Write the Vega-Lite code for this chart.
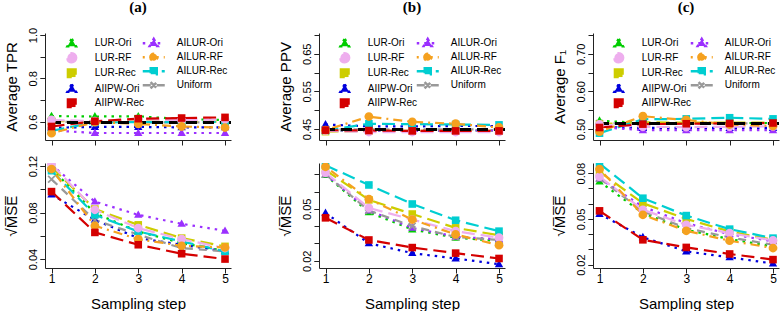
{
  "$schema": "https://vega.github.io/schema/vega-lite/v6.json",
  "padding": {"left": 4, "top": 0, "right": 2, "bottom": 0},
  "config": {
    "view": {"stroke": null},
    "font": "Liberation Sans",
    "axis": {"grid": false, "domainColor": "#222", "tickColor": "#222", "tickSize": 5, "labelFont": "Liberation Sans", "titleFont": "Liberation Sans", "labelColor": "#000", "titleColor": "#000", "titleFontWeight": "normal", "titleFontSize": 15, "labelFlush": false},
    "axisY": {"labelAngle": 270, "labelFontSize": 11, "labelPadding": 2, "titlePadding": 8},
    "axisX": {"labelFontSize": 12, "labelPadding": 0, "titlePadding": 12},
    "title": {"font": "Liberation Serif", "fontSize": 15, "fontWeight": "bold", "color": "#000", "anchor": "middle", "frame": "group", "baseline": "middle"},
    "legend": {"title": null, "orient": "none", "rowPadding": -3.5, "symbolSize": 64, "symbolStrokeWidth": 2.5, "symbolOffset": 10.25, "labelOffset": 17.5, "labelFontSize": 10, "labelFont": "Liberation Sans", "labelColor": "#000", "padding": 0}
  },
  "datasets": {
    "refs": [{"panel": "a", "value": 0.596}, {"panel": "b", "value": 0.449}, {"panel": "c", "value": 0.515}],
    "tprA": [
      {"method": "LUR-Ori", "step": 1, "value": 0.626}, {"method": "LUR-Ori", "step": 2, "value": 0.624}, {"method": "LUR-Ori", "step": 3, "value": 0.625}, {"method": "LUR-Ori", "step": 4, "value": 0.612}, {"method": "LUR-Ori", "step": 5, "value": 0.608},
      {"method": "AIIPW-Ori", "step": 1, "value": 0.572}, {"method": "AIIPW-Ori", "step": 2, "value": 0.576}, {"method": "AIIPW-Ori", "step": 3, "value": 0.576}, {"method": "AIIPW-Ori", "step": 4, "value": 0.574}, {"method": "AIIPW-Ori", "step": 5, "value": 0.574},
      {"method": "AILUR-Ori", "step": 1, "value": 0.560}, {"method": "AILUR-Ori", "step": 2, "value": 0.548}, {"method": "AILUR-Ori", "step": 3, "value": 0.548}, {"method": "AILUR-Ori", "step": 4, "value": 0.548}, {"method": "AILUR-Ori", "step": 5, "value": 0.548},
      {"method": "Uniform", "step": 1, "value": 0.600}, {"method": "Uniform", "step": 2, "value": 0.598}, {"method": "Uniform", "step": 3, "value": 0.597}, {"method": "Uniform", "step": 4, "value": 0.597}, {"method": "Uniform", "step": 5, "value": 0.597},
      {"method": "LUR-Rec", "step": 1, "value": 0.603}, {"method": "LUR-Rec", "step": 2, "value": 0.600}, {"method": "LUR-Rec", "step": 3, "value": 0.602}, {"method": "LUR-Rec", "step": 4, "value": 0.600}, {"method": "LUR-Rec", "step": 5, "value": 0.601},
      {"method": "AILUR-Rec", "step": 1, "value": 0.558}, {"method": "AILUR-Rec", "step": 2, "value": 0.597}, {"method": "AILUR-Rec", "step": 3, "value": 0.598}, {"method": "AILUR-Rec", "step": 4, "value": 0.598}, {"method": "AILUR-Rec", "step": 5, "value": 0.599},
      {"method": "LUR-RF", "step": 1, "value": 0.608}, {"method": "LUR-RF", "step": 2, "value": 0.603}, {"method": "LUR-RF", "step": 3, "value": 0.612}, {"method": "LUR-RF", "step": 4, "value": 0.607}, {"method": "LUR-RF", "step": 5, "value": 0.610},
      {"method": "AILUR-RF", "step": 1, "value": 0.547}, {"method": "AILUR-RF", "step": 2, "value": 0.598}, {"method": "AILUR-RF", "step": 3, "value": 0.590}, {"method": "AILUR-RF", "step": 4, "value": 0.578}, {"method": "AILUR-RF", "step": 5, "value": 0.573},
      {"method": "AIIPW-Rec", "step": 1, "value": 0.578}, {"method": "AIIPW-Rec", "step": 2, "value": 0.602}, {"method": "AIIPW-Rec", "step": 3, "value": 0.614}, {"method": "AIIPW-Rec", "step": 4, "value": 0.617}, {"method": "AIIPW-Rec", "step": 5, "value": 0.620}
    ],
    "ppvB": [
      {"method": "LUR-Ori", "step": 1, "value": 0.447}, {"method": "LUR-Ori", "step": 2, "value": 0.446}, {"method": "LUR-Ori", "step": 3, "value": 0.446}, {"method": "LUR-Ori", "step": 4, "value": 0.446}, {"method": "LUR-Ori", "step": 5, "value": 0.446},
      {"method": "AIIPW-Ori", "step": 1, "value": 0.462}, {"method": "AIIPW-Ori", "step": 2, "value": 0.457}, {"method": "AIIPW-Ori", "step": 3, "value": 0.457}, {"method": "AIIPW-Ori", "step": 4, "value": 0.458}, {"method": "AIIPW-Ori", "step": 5, "value": 0.458},
      {"method": "AILUR-Ori", "step": 1, "value": 0.446}, {"method": "AILUR-Ori", "step": 2, "value": 0.446}, {"method": "AILUR-Ori", "step": 3, "value": 0.445}, {"method": "AILUR-Ori", "step": 4, "value": 0.446}, {"method": "AILUR-Ori", "step": 5, "value": 0.446},
      {"method": "Uniform", "step": 1, "value": 0.449}, {"method": "Uniform", "step": 2, "value": 0.449}, {"method": "Uniform", "step": 3, "value": 0.449}, {"method": "Uniform", "step": 4, "value": 0.449}, {"method": "Uniform", "step": 5, "value": 0.449},
      {"method": "LUR-Rec", "step": 1, "value": 0.443}, {"method": "LUR-Rec", "step": 2, "value": 0.445}, {"method": "LUR-Rec", "step": 3, "value": 0.445}, {"method": "LUR-Rec", "step": 4, "value": 0.445}, {"method": "LUR-Rec", "step": 5, "value": 0.445},
      {"method": "AILUR-Rec", "step": 1, "value": 0.446}, {"method": "AILUR-Rec", "step": 2, "value": 0.464}, {"method": "AILUR-Rec", "step": 3, "value": 0.463}, {"method": "AILUR-Rec", "step": 4, "value": 0.462}, {"method": "AILUR-Rec", "step": 5, "value": 0.461},
      {"method": "LUR-RF", "step": 1, "value": 0.445}, {"method": "LUR-RF", "step": 2, "value": 0.442}, {"method": "LUR-RF", "step": 3, "value": 0.442}, {"method": "LUR-RF", "step": 4, "value": 0.442}, {"method": "LUR-RF", "step": 5, "value": 0.442},
      {"method": "AILUR-RF", "step": 1, "value": 0.447}, {"method": "AILUR-RF", "step": 2, "value": 0.483}, {"method": "AILUR-RF", "step": 3, "value": 0.469}, {"method": "AILUR-RF", "step": 4, "value": 0.464}, {"method": "AILUR-RF", "step": 5, "value": 0.454},
      {"method": "AIIPW-Rec", "step": 1, "value": 0.447}, {"method": "AIIPW-Rec", "step": 2, "value": 0.446}, {"method": "AIIPW-Rec", "step": 3, "value": 0.445}, {"method": "AIIPW-Rec", "step": 4, "value": 0.445}, {"method": "AIIPW-Rec", "step": 5, "value": 0.445}
    ],
    "f1C": [
      {"method": "LUR-Ori", "step": 1, "value": 0.522}, {"method": "LUR-Ori", "step": 2, "value": 0.516}, {"method": "LUR-Ori", "step": 3, "value": 0.516}, {"method": "LUR-Ori", "step": 4, "value": 0.516}, {"method": "LUR-Ori", "step": 5, "value": 0.516},
      {"method": "AIIPW-Ori", "step": 1, "value": 0.505}, {"method": "AIIPW-Ori", "step": 2, "value": 0.503}, {"method": "AIIPW-Ori", "step": 3, "value": 0.503}, {"method": "AIIPW-Ori", "step": 4, "value": 0.503}, {"method": "AIIPW-Ori", "step": 5, "value": 0.503},
      {"method": "AILUR-Ori", "step": 1, "value": 0.505}, {"method": "AILUR-Ori", "step": 2, "value": 0.497}, {"method": "AILUR-Ori", "step": 3, "value": 0.497}, {"method": "AILUR-Ori", "step": 4, "value": 0.497}, {"method": "AILUR-Ori", "step": 5, "value": 0.497},
      {"method": "Uniform", "step": 1, "value": 0.515}, {"method": "Uniform", "step": 2, "value": 0.515}, {"method": "Uniform", "step": 3, "value": 0.515}, {"method": "Uniform", "step": 4, "value": 0.515}, {"method": "Uniform", "step": 5, "value": 0.515},
      {"method": "LUR-Rec", "step": 1, "value": 0.513}, {"method": "LUR-Rec", "step": 2, "value": 0.518}, {"method": "LUR-Rec", "step": 3, "value": 0.517}, {"method": "LUR-Rec", "step": 4, "value": 0.517}, {"method": "LUR-Rec", "step": 5, "value": 0.517},
      {"method": "AILUR-Rec", "step": 1, "value": 0.489}, {"method": "AILUR-Rec", "step": 2, "value": 0.526}, {"method": "AILUR-Rec", "step": 3, "value": 0.527}, {"method": "AILUR-Rec", "step": 4, "value": 0.530}, {"method": "AILUR-Rec", "step": 5, "value": 0.527},
      {"method": "LUR-RF", "step": 1, "value": 0.512}, {"method": "LUR-RF", "step": 2, "value": 0.506}, {"method": "LUR-RF", "step": 3, "value": 0.505}, {"method": "LUR-RF", "step": 4, "value": 0.506}, {"method": "LUR-RF", "step": 5, "value": 0.507},
      {"method": "AILUR-RF", "step": 1, "value": 0.493}, {"method": "AILUR-RF", "step": 2, "value": 0.534}, {"method": "AILUR-RF", "step": 3, "value": 0.524}, {"method": "AILUR-RF", "step": 4, "value": 0.512}, {"method": "AILUR-RF", "step": 5, "value": 0.508},
      {"method": "AIIPW-Rec", "step": 1, "value": 0.504}, {"method": "AIIPW-Rec", "step": 2, "value": 0.513}, {"method": "AIIPW-Rec", "step": 3, "value": 0.514}, {"method": "AIIPW-Rec", "step": 4, "value": 0.515}, {"method": "AIIPW-Rec", "step": 5, "value": 0.516}
    ],
    "mseA": [
      {"method": "LUR-Ori", "step": 1, "value": 0.118}, {"method": "LUR-Ori", "step": 2, "value": 0.0794}, {"method": "LUR-Ori", "step": 3, "value": 0.0637}, {"method": "LUR-Ori", "step": 4, "value": 0.0537}, {"method": "LUR-Ori", "step": 5, "value": 0.047},
      {"method": "AIIPW-Ori", "step": 1, "value": 0.0955}, {"method": "AIIPW-Ori", "step": 2, "value": 0.0737}, {"method": "AIIPW-Ori", "step": 3, "value": 0.058}, {"method": "AIIPW-Ori", "step": 4, "value": 0.0523}, {"method": "AIIPW-Ori", "step": 5, "value": 0.0466},
      {"method": "AILUR-Ori", "step": 1, "value": 0.121}, {"method": "AILUR-Ori", "step": 2, "value": 0.0894}, {"method": "AILUR-Ori", "step": 3, "value": 0.078}, {"method": "AILUR-Ori", "step": 4, "value": 0.0703}, {"method": "AILUR-Ori", "step": 5, "value": 0.0643},
      {"method": "Uniform", "step": 1, "value": 0.1086}, {"method": "Uniform", "step": 2, "value": 0.0735}, {"method": "Uniform", "step": 3, "value": 0.061}, {"method": "Uniform", "step": 4, "value": 0.0494}, {"method": "Uniform", "step": 5, "value": 0.0466},
      {"method": "LUR-Rec", "step": 1, "value": 0.119}, {"method": "LUR-Rec", "step": 2, "value": 0.083}, {"method": "LUR-Rec", "step": 3, "value": 0.0694}, {"method": "LUR-Rec", "step": 4, "value": 0.058}, {"method": "LUR-Rec", "step": 5, "value": 0.0509},
      {"method": "AILUR-Rec", "step": 1, "value": 0.116}, {"method": "AILUR-Rec", "step": 2, "value": 0.078}, {"method": "AILUR-Rec", "step": 3, "value": 0.0637}, {"method": "AILUR-Rec", "step": 4, "value": 0.0551}, {"method": "AILUR-Rec", "step": 5, "value": 0.0466},
      {"method": "LUR-RF", "step": 1, "value": 0.1215}, {"method": "LUR-RF", "step": 2, "value": 0.0823}, {"method": "LUR-RF", "step": 3, "value": 0.0666}, {"method": "LUR-RF", "step": 4, "value": 0.0571}, {"method": "LUR-RF", "step": 5, "value": 0.0494},
      {"method": "AILUR-RF", "step": 1, "value": 0.1174}, {"method": "AILUR-RF", "step": 2, "value": 0.0686}, {"method": "AILUR-RF", "step": 3, "value": 0.0571}, {"method": "AILUR-RF", "step": 4, "value": 0.0514}, {"method": "AILUR-RF", "step": 5, "value": 0.050},
      {"method": "AIIPW-Rec", "step": 1, "value": 0.098}, {"method": "AIIPW-Rec", "step": 2, "value": 0.0629}, {"method": "AIIPW-Rec", "step": 3, "value": 0.0523}, {"method": "AIIPW-Rec", "step": 4, "value": 0.0446}, {"method": "AIIPW-Rec", "step": 5, "value": 0.040}
    ],
    "mseB": [
      {"method": "LUR-Ori", "step": 1, "value": 0.0695}, {"method": "LUR-Ori", "step": 2, "value": 0.048}, {"method": "LUR-Ori", "step": 3, "value": 0.0381}, {"method": "LUR-Ori", "step": 4, "value": 0.0333}, {"method": "LUR-Ori", "step": 5, "value": 0.0314},
      {"method": "AIIPW-Ori", "step": 1, "value": 0.0476}, {"method": "AIIPW-Ori", "step": 2, "value": 0.0301}, {"method": "AIIPW-Ori", "step": 3, "value": 0.0244}, {"method": "AIIPW-Ori", "step": 4, "value": 0.0213}, {"method": "AIIPW-Ori", "step": 5, "value": 0.018},
      {"method": "AILUR-Ori", "step": 1, "value": 0.070}, {"method": "AILUR-Ori", "step": 2, "value": 0.0491}, {"method": "AILUR-Ori", "step": 3, "value": 0.039}, {"method": "AILUR-Ori", "step": 4, "value": 0.0339}, {"method": "AILUR-Ori", "step": 5, "value": 0.0324},
      {"method": "Uniform", "step": 1, "value": 0.070}, {"method": "Uniform", "step": 2, "value": 0.049}, {"method": "Uniform", "step": 3, "value": 0.040}, {"method": "Uniform", "step": 4, "value": 0.0337}, {"method": "Uniform", "step": 5, "value": 0.032},
      {"method": "LUR-Rec", "step": 1, "value": 0.0724}, {"method": "LUR-Rec", "step": 2, "value": 0.0552}, {"method": "LUR-Rec", "step": 3, "value": 0.047}, {"method": "LUR-Rec", "step": 4, "value": 0.039}, {"method": "LUR-Rec", "step": 5, "value": 0.0347},
      {"method": "AILUR-Rec", "step": 1, "value": 0.0752}, {"method": "AILUR-Rec", "step": 2, "value": 0.0638}, {"method": "AILUR-Rec", "step": 3, "value": 0.0528}, {"method": "AILUR-Rec", "step": 4, "value": 0.0434}, {"method": "AILUR-Rec", "step": 5, "value": 0.0371},
      {"method": "LUR-RF", "step": 1, "value": 0.0709}, {"method": "LUR-RF", "step": 2, "value": 0.0505}, {"method": "LUR-RF", "step": 3, "value": 0.0438}, {"method": "LUR-RF", "step": 4, "value": 0.0371}, {"method": "LUR-RF", "step": 5, "value": 0.0333},
      {"method": "AILUR-RF", "step": 1, "value": 0.0743}, {"method": "AILUR-RF", "step": 2, "value": 0.0556}, {"method": "AILUR-RF", "step": 3, "value": 0.0438}, {"method": "AILUR-RF", "step": 4, "value": 0.0352}, {"method": "AILUR-RF", "step": 5, "value": 0.029},
      {"method": "AIIPW-Rec", "step": 1, "value": 0.0448}, {"method": "AIIPW-Rec", "step": 2, "value": 0.032}, {"method": "AIIPW-Rec", "step": 3, "value": 0.0276}, {"method": "AIIPW-Rec", "step": 4, "value": 0.0244}, {"method": "AIIPW-Rec", "step": 5, "value": 0.0213}
    ],
    "mseC": [
      {"method": "LUR-Ori", "step": 1, "value": 0.0745}, {"method": "LUR-Ori", "step": 2, "value": 0.0538}, {"method": "LUR-Ori", "step": 3, "value": 0.0429}, {"method": "LUR-Ori", "step": 4, "value": 0.0368}, {"method": "LUR-Ori", "step": 5, "value": 0.032},
      {"method": "AIIPW-Ori", "step": 1, "value": 0.0533}, {"method": "AIIPW-Ori", "step": 2, "value": 0.038}, {"method": "AIIPW-Ori", "step": 3, "value": 0.0287}, {"method": "AIIPW-Ori", "step": 4, "value": 0.0248}, {"method": "AIIPW-Ori", "step": 5, "value": 0.0207},
      {"method": "AILUR-Ori", "step": 1, "value": 0.0766}, {"method": "AILUR-Ori", "step": 2, "value": 0.058}, {"method": "AILUR-Ori", "step": 3, "value": 0.0472}, {"method": "AILUR-Ori", "step": 4, "value": 0.040}, {"method": "AILUR-Ori", "step": 5, "value": 0.0353},
      {"method": "Uniform", "step": 1, "value": 0.0766}, {"method": "Uniform", "step": 2, "value": 0.0549}, {"method": "Uniform", "step": 3, "value": 0.044}, {"method": "Uniform", "step": 4, "value": 0.0379}, {"method": "Uniform", "step": 5, "value": 0.0331},
      {"method": "LUR-Rec", "step": 1, "value": 0.081}, {"method": "LUR-Rec", "step": 2, "value": 0.0603}, {"method": "LUR-Rec", "step": 3, "value": 0.050}, {"method": "LUR-Rec", "step": 4, "value": 0.0418}, {"method": "LUR-Rec", "step": 5, "value": 0.0363},
      {"method": "AILUR-Rec", "step": 1, "value": 0.0864}, {"method": "AILUR-Rec", "step": 2, "value": 0.0636}, {"method": "AILUR-Rec", "step": 3, "value": 0.0522}, {"method": "AILUR-Rec", "step": 4, "value": 0.0433}, {"method": "AILUR-Rec", "step": 5, "value": 0.0374},
      {"method": "LUR-RF", "step": 1, "value": 0.0777}, {"method": "LUR-RF", "step": 2, "value": 0.056}, {"method": "LUR-RF", "step": 3, "value": 0.0461}, {"method": "LUR-RF", "step": 4, "value": 0.0407}, {"method": "LUR-RF", "step": 5, "value": 0.0359},
      {"method": "AILUR-RF", "step": 1, "value": 0.0827}, {"method": "AILUR-RF", "step": 2, "value": 0.0527}, {"method": "AILUR-RF", "step": 3, "value": 0.0422}, {"method": "AILUR-RF", "step": 4, "value": 0.0357}, {"method": "AILUR-RF", "step": 5, "value": 0.0309},
      {"method": "AIIPW-Rec", "step": 1, "value": 0.0553}, {"method": "AIIPW-Rec", "step": 2, "value": 0.0363}, {"method": "AIIPW-Rec", "step": 3, "value": 0.0313}, {"method": "AIIPW-Rec", "step": 4, "value": 0.027}, {"method": "AIIPW-Rec", "step": 5, "value": 0.0233}
    ]
  },
  "columns": 3,
  "bounds": "flush",
  "spacing": {"row": 23, "column": 88},
  "resolve": {"legend": {"color": "independent", "strokeDash": "independent", "shape": "independent", "fill": "independent"}},
  "concat": [
    {
      "title": {"text": "(a)", "offset": 12},
      "width": 186, "height": 107,
      "resolve": {"axis": {"y": "independent"}},
      "layer": [
        {
          "data": {"name": "tprA"},
          "mark": {"type": "line", "strokeWidth": 2.2, "clip": true},
          "encoding": {
            "x": {"field": "step", "type": "quantitative", "scale": {"domain": [0.85, 5.138], "nice": false, "zero": false}, "axis": {"values": [1, 2, 3, 4, 5], "labels": false, "title": null}},
            "y": {"field": "value", "type": "quantitative", "scale": {"domain": [0.5157, 1.0092], "nice": false, "zero": false}, "axis": {"orient": "left", "values": [0.6, 0.8, 1.0], "format": ".1f", "title": "Average TPR"}},
            "color": {"field": "method", "type": "nominal", "scale": {"domain": ["LUR-Ori", "LUR-RF", "LUR-Rec", "AIIPW-Ori", "AIIPW-Rec", "AILUR-Ori", "AILUR-RF", "AILUR-Rec", "Uniform"], "range": ["#00CD00", "#EEAEEE", "#CDCD00", "#0000DD", "#D40000", "#9B30FF", "#F5A11F", "#00CED1", "#999999"]},
              "legend": {"values": ["LUR-Ori", "LUR-RF", "LUR-Rec", "AIIPW-Ori", "AIIPW-Rec"], "legendX": 11, "legendY": 4.75, "encoding": {"symbols": {"shape": {"value": {"expr": "indexof(['LUR-Ori','AILUR-Ori','AIIPW-Ori'], datum.value) >= 0 ? 'M-2.75,0H2.75M0,-1.05L1,0.7L-1,0.7Z' : indexof(['LUR-RF','AILUR-RF'], datum.value) >= 0 ? 'M-2.75,0H2.75M0.85,0A0.85,0.85,0,1,1,-0.85,0A0.85,0.85,0,1,1,0.85,0Z' : datum.value == 'Uniform' ? 'M-2.75,0H2.75M-0.8,-0.8L0.8,0.8M-0.8,0.8L0.8,-0.8' : 'M-2.75,0H2.75M-0.75,-0.75H0.75V0.75H-0.75Z'"}}, "fill": {"value": {"expr": "scale('color', datum.value)"}}, "stroke": {"value": {"expr": "scale('color', datum.value)"}}, "strokeDash": {"value": {"expr": "scale('strokeDash', datum.value)"}}, "size": {"value": 64}, "strokeWidth": {"value": 2.5}}}}},
            "strokeDash": {"field": "method", "type": "nominal", "scale": {"domain": ["LUR-Ori", "LUR-RF", "LUR-Rec", "AIIPW-Ori", "AIIPW-Rec", "AILUR-Ori", "AILUR-RF", "AILUR-Rec", "Uniform"], "range": [[2.5, 5], [13, 6], [13, 6], [2.5, 5], [13, 6], [2.5, 5], [2, 5, 9, 5], [13, 6], [8, 6]]},
              "legend": {"values": ["LUR-Ori", "LUR-RF", "LUR-Rec", "AIIPW-Ori", "AIIPW-Rec"], "legendX": 11, "legendY": 4.75, "encoding": {"symbols": {"shape": {"value": {"expr": "indexof(['LUR-Ori','AILUR-Ori','AIIPW-Ori'], datum.value) >= 0 ? 'M-2.75,0H2.75M0,-1.05L1,0.7L-1,0.7Z' : indexof(['LUR-RF','AILUR-RF'], datum.value) >= 0 ? 'M-2.75,0H2.75M0.85,0A0.85,0.85,0,1,1,-0.85,0A0.85,0.85,0,1,1,0.85,0Z' : datum.value == 'Uniform' ? 'M-2.75,0H2.75M-0.8,-0.8L0.8,0.8M-0.8,0.8L0.8,-0.8' : 'M-2.75,0H2.75M-0.75,-0.75H0.75V0.75H-0.75Z'"}}, "fill": {"value": {"expr": "scale('color', datum.value)"}}, "stroke": {"value": {"expr": "scale('color', datum.value)"}}, "strokeDash": {"value": {"expr": "scale('strokeDash', datum.value)"}}, "size": {"value": 64}, "strokeWidth": {"value": 2.5}}}}}
          }
        },
        {
          "data": {"name": "refs"},
          "transform": [{"filter": "datum.panel == 'a'"}],
          "mark": {"type": "rule", "color": "#000", "strokeWidth": 3, "strokeDash": [11, 6]},
          "encoding": {"y": {"field": "value", "type": "quantitative", "axis": null}}
        },
        {
          "data": {"name": "tprA"},
          "mark": {"type": "point", "filled": true, "opacity": 1, "size": 64, "strokeWidth": 0, "clip": true},
          "encoding": {
            "x": {"field": "step", "type": "quantitative"},
            "y": {"field": "value", "type": "quantitative", "axis": {"orient": "left", "values": [0.6, 0.7, 0.8, 0.9, 1.0], "labels": false, "domain": false, "title": null}},
            "fill": {"field": "method", "type": "nominal", "scale": {"domain": ["Uniform", "AILUR-Rec", "AILUR-RF", "AILUR-Ori", "AIIPW-Rec", "AIIPW-Ori", "LUR-Rec", "LUR-RF", "LUR-Ori"], "range": ["#999999", "#00CED1", "#F5A11F", "#9B30FF", "#D40000", "#0000DD", "#CDCD00", "#EEAEEE", "#00CD00"]},
              "legend": {"values": ["AILUR-Ori", "AILUR-RF", "AILUR-Rec", "Uniform"], "legendX": 93, "legendY": 4.75, "encoding": {"symbols": {"shape": {"value": {"expr": "indexof(['LUR-Ori','AILUR-Ori','AIIPW-Ori'], datum.value) >= 0 ? 'M-2.75,0H2.75M0,-1.05L1,0.7L-1,0.7Z' : indexof(['LUR-RF','AILUR-RF'], datum.value) >= 0 ? 'M-2.75,0H2.75M0.85,0A0.85,0.85,0,1,1,-0.85,0A0.85,0.85,0,1,1,0.85,0Z' : datum.value == 'Uniform' ? 'M-2.75,0H2.75M-0.8,-0.8L0.8,0.8M-0.8,0.8L0.8,-0.8' : 'M-2.75,0H2.75M-0.75,-0.75H0.75V0.75H-0.75Z'"}}, "fill": {"value": {"expr": "scale('fill', datum.value)"}}, "stroke": {"value": {"expr": "scale('fill', datum.value)"}}, "strokeDash": {"value": {"expr": "scale('strokeDash', datum.value)"}}, "size": {"value": 64}, "strokeWidth": {"value": 2.5}}}}},
            "shape": {"field": "method", "type": "nominal", "scale": {"domain": ["LUR-Ori", "LUR-RF", "LUR-Rec", "AIIPW-Ori", "AIIPW-Rec", "AILUR-Ori", "AILUR-RF", "AILUR-Rec", "Uniform"], "range": ["M0,-1.1L1.05,0.75L-1.05,0.75Z", "M1.1,0A1.1,1.1,0,1,1,-1.1,0A1.1,1.1,0,1,1,1.1,0Z", "M-0.95,-0.95H0.95V0.95H-0.95Z", "M0,-1.1L1.05,0.75L-1.05,0.75Z", "M-0.95,-0.95H0.95V0.95H-0.95Z", "M0,-1.1L1.05,0.75L-1.05,0.75Z", "M1.1,0A1.1,1.1,0,1,1,-1.1,0A1.1,1.1,0,1,1,1.1,0Z", "M-0.95,-0.95H0.95V0.95H-0.95Z", "M-1,-0.7L-0.7,-1L0,-0.3L0.7,-1L1,-0.7L0.3,0L1,0.7L0.7,1L0,0.3L-0.7,1L-1,0.7L-0.3,0Z"]}, "legend": null}
          }
        }
      ]
    },
    {
      "title": {"text": "(b)", "offset": 18},
      "width": 186, "height": 107,
      "resolve": {"axis": {"y": "independent"}},
      "layer": [
        {
          "data": {"name": "ppvB"},
          "mark": {"type": "line", "strokeWidth": 2.2, "clip": true},
          "encoding": {
            "x": {"field": "step", "type": "quantitative", "scale": {"domain": [0.85, 5.138], "nice": false, "zero": false}, "axis": {"values": [1, 2, 3, 4, 5], "labels": false, "title": null}},
            "y": {"field": "value", "type": "quantitative", "scale": {"domain": [0.4208, 0.7053], "nice": false, "zero": false}, "axis": {"orient": "left", "values": [0.45, 0.55, 0.65], "format": ".2f", "title": "Average PPV"}},
            "color": {"field": "method", "type": "nominal", "scale": {"domain": ["LUR-Ori", "LUR-RF", "LUR-Rec", "AIIPW-Ori", "AIIPW-Rec", "AILUR-Ori", "AILUR-RF", "AILUR-Rec", "Uniform"], "range": ["#00CD00", "#EEAEEE", "#CDCD00", "#0000DD", "#D40000", "#9B30FF", "#F5A11F", "#00CED1", "#999999"]},
              "legend": {"values": ["LUR-Ori", "LUR-RF", "LUR-Rec", "AIIPW-Ori", "AIIPW-Rec"], "legendX": 10, "legendY": 4.75, "encoding": {"symbols": {"shape": {"value": {"expr": "indexof(['LUR-Ori','AILUR-Ori','AIIPW-Ori'], datum.value) >= 0 ? 'M-2.75,0H2.75M0,-1.05L1,0.7L-1,0.7Z' : indexof(['LUR-RF','AILUR-RF'], datum.value) >= 0 ? 'M-2.75,0H2.75M0.85,0A0.85,0.85,0,1,1,-0.85,0A0.85,0.85,0,1,1,0.85,0Z' : datum.value == 'Uniform' ? 'M-2.75,0H2.75M-0.8,-0.8L0.8,0.8M-0.8,0.8L0.8,-0.8' : 'M-2.75,0H2.75M-0.75,-0.75H0.75V0.75H-0.75Z'"}}, "fill": {"value": {"expr": "scale('color', datum.value)"}}, "stroke": {"value": {"expr": "scale('color', datum.value)"}}, "strokeDash": {"value": {"expr": "scale('strokeDash', datum.value)"}}, "size": {"value": 64}, "strokeWidth": {"value": 2.5}}}}},
            "strokeDash": {"field": "method", "type": "nominal", "scale": {"domain": ["LUR-Ori", "LUR-RF", "LUR-Rec", "AIIPW-Ori", "AIIPW-Rec", "AILUR-Ori", "AILUR-RF", "AILUR-Rec", "Uniform"], "range": [[2.5, 5], [13, 6], [13, 6], [2.5, 5], [13, 6], [2.5, 5], [2, 5, 9, 5], [13, 6], [8, 6]]},
              "legend": {"values": ["LUR-Ori", "LUR-RF", "LUR-Rec", "AIIPW-Ori", "AIIPW-Rec"], "legendX": 10, "legendY": 4.75, "encoding": {"symbols": {"shape": {"value": {"expr": "indexof(['LUR-Ori','AILUR-Ori','AIIPW-Ori'], datum.value) >= 0 ? 'M-2.75,0H2.75M0,-1.05L1,0.7L-1,0.7Z' : indexof(['LUR-RF','AILUR-RF'], datum.value) >= 0 ? 'M-2.75,0H2.75M0.85,0A0.85,0.85,0,1,1,-0.85,0A0.85,0.85,0,1,1,0.85,0Z' : datum.value == 'Uniform' ? 'M-2.75,0H2.75M-0.8,-0.8L0.8,0.8M-0.8,0.8L0.8,-0.8' : 'M-2.75,0H2.75M-0.75,-0.75H0.75V0.75H-0.75Z'"}}, "fill": {"value": {"expr": "scale('color', datum.value)"}}, "stroke": {"value": {"expr": "scale('color', datum.value)"}}, "strokeDash": {"value": {"expr": "scale('strokeDash', datum.value)"}}, "size": {"value": 64}, "strokeWidth": {"value": 2.5}}}}}
          }
        },
        {
          "data": {"name": "refs"},
          "transform": [{"filter": "datum.panel == 'b'"}],
          "mark": {"type": "rule", "color": "#000", "strokeWidth": 3, "strokeDash": [11, 6]},
          "encoding": {"y": {"field": "value", "type": "quantitative", "axis": null}}
        },
        {
          "data": {"name": "ppvB"},
          "mark": {"type": "point", "filled": true, "opacity": 1, "size": 64, "strokeWidth": 0, "clip": true},
          "encoding": {
            "x": {"field": "step", "type": "quantitative"},
            "y": {"field": "value", "type": "quantitative", "axis": {"orient": "left", "values": [0.45, 0.5, 0.55, 0.6, 0.65, 0.7], "labels": false, "domain": false, "title": null}},
            "fill": {"field": "method", "type": "nominal", "scale": {"domain": ["Uniform", "AILUR-Rec", "AILUR-RF", "AILUR-Ori", "AIIPW-Rec", "AIIPW-Ori", "LUR-Rec", "LUR-RF", "LUR-Ori"], "range": ["#999999", "#00CED1", "#F5A11F", "#9B30FF", "#D40000", "#0000DD", "#CDCD00", "#EEAEEE", "#00CD00"]},
              "legend": {"values": ["AILUR-Ori", "AILUR-RF", "AILUR-Rec", "Uniform"], "legendX": 93, "legendY": 4.75, "encoding": {"symbols": {"shape": {"value": {"expr": "indexof(['LUR-Ori','AILUR-Ori','AIIPW-Ori'], datum.value) >= 0 ? 'M-2.75,0H2.75M0,-1.05L1,0.7L-1,0.7Z' : indexof(['LUR-RF','AILUR-RF'], datum.value) >= 0 ? 'M-2.75,0H2.75M0.85,0A0.85,0.85,0,1,1,-0.85,0A0.85,0.85,0,1,1,0.85,0Z' : datum.value == 'Uniform' ? 'M-2.75,0H2.75M-0.8,-0.8L0.8,0.8M-0.8,0.8L0.8,-0.8' : 'M-2.75,0H2.75M-0.75,-0.75H0.75V0.75H-0.75Z'"}}, "fill": {"value": {"expr": "scale('fill', datum.value)"}}, "stroke": {"value": {"expr": "scale('fill', datum.value)"}}, "strokeDash": {"value": {"expr": "scale('strokeDash', datum.value)"}}, "size": {"value": 64}, "strokeWidth": {"value": 2.5}}}}},
            "shape": {"field": "method", "type": "nominal", "scale": {"domain": ["LUR-Ori", "LUR-RF", "LUR-Rec", "AIIPW-Ori", "AIIPW-Rec", "AILUR-Ori", "AILUR-RF", "AILUR-Rec", "Uniform"], "range": ["M0,-1.1L1.05,0.75L-1.05,0.75Z", "M1.1,0A1.1,1.1,0,1,1,-1.1,0A1.1,1.1,0,1,1,1.1,0Z", "M-0.95,-0.95H0.95V0.95H-0.95Z", "M0,-1.1L1.05,0.75L-1.05,0.75Z", "M-0.95,-0.95H0.95V0.95H-0.95Z", "M0,-1.1L1.05,0.75L-1.05,0.75Z", "M1.1,0A1.1,1.1,0,1,1,-1.1,0A1.1,1.1,0,1,1,1.1,0Z", "M-0.95,-0.95H0.95V0.95H-0.95Z", "M-1,-0.7L-0.7,-1L0,-0.3L0.7,-1L1,-0.7L0.3,0L1,0.7L0.7,1L0,0.3L-0.7,1L-1,0.7L-0.3,0Z"]}, "legend": null}
          }
        }
      ]
    },
    {
      "title": {"text": "(c)", "offset": 18},
      "width": 186, "height": 107,
      "resolve": {"axis": {"y": "independent"}},
      "layer": [
        {
          "data": {"name": "f1C"},
          "mark": {"type": "line", "strokeWidth": 2.2, "clip": true},
          "encoding": {
            "x": {"field": "step", "type": "quantitative", "scale": {"domain": [0.85, 5.138], "nice": false, "zero": false}, "axis": {"values": [1, 2, 3, 4, 5], "labels": false, "title": null}},
            "y": {"field": "value", "type": "quantitative", "scale": {"domain": [0.4708, 0.7553], "nice": false, "zero": false}, "axis": {"orient": "left", "values": [0.5, 0.6, 0.7], "format": ".2f", "title": "Average  F₁"}},
            "color": {"field": "method", "type": "nominal", "scale": {"domain": ["LUR-Ori", "LUR-RF", "LUR-Rec", "AIIPW-Ori", "AIIPW-Rec", "AILUR-Ori", "AILUR-RF", "AILUR-Rec", "Uniform"], "range": ["#00CD00", "#EEAEEE", "#CDCD00", "#0000DD", "#D40000", "#9B30FF", "#F5A11F", "#00CED1", "#999999"]},
              "legend": {"values": ["LUR-Ori", "LUR-RF", "LUR-Rec", "AIIPW-Ori", "AIIPW-Rec"], "legendX": 10, "legendY": 4.75, "encoding": {"symbols": {"shape": {"value": {"expr": "indexof(['LUR-Ori','AILUR-Ori','AIIPW-Ori'], datum.value) >= 0 ? 'M-2.75,0H2.75M0,-1.05L1,0.7L-1,0.7Z' : indexof(['LUR-RF','AILUR-RF'], datum.value) >= 0 ? 'M-2.75,0H2.75M0.85,0A0.85,0.85,0,1,1,-0.85,0A0.85,0.85,0,1,1,0.85,0Z' : datum.value == 'Uniform' ? 'M-2.75,0H2.75M-0.8,-0.8L0.8,0.8M-0.8,0.8L0.8,-0.8' : 'M-2.75,0H2.75M-0.75,-0.75H0.75V0.75H-0.75Z'"}}, "fill": {"value": {"expr": "scale('color', datum.value)"}}, "stroke": {"value": {"expr": "scale('color', datum.value)"}}, "strokeDash": {"value": {"expr": "scale('strokeDash', datum.value)"}}, "size": {"value": 64}, "strokeWidth": {"value": 2.5}}}}},
            "strokeDash": {"field": "method", "type": "nominal", "scale": {"domain": ["LUR-Ori", "LUR-RF", "LUR-Rec", "AIIPW-Ori", "AIIPW-Rec", "AILUR-Ori", "AILUR-RF", "AILUR-Rec", "Uniform"], "range": [[2.5, 5], [13, 6], [13, 6], [2.5, 5], [13, 6], [2.5, 5], [2, 5, 9, 5], [13, 6], [8, 6]]},
              "legend": {"values": ["LUR-Ori", "LUR-RF", "LUR-Rec", "AIIPW-Ori", "AIIPW-Rec"], "legendX": 10, "legendY": 4.75, "encoding": {"symbols": {"shape": {"value": {"expr": "indexof(['LUR-Ori','AILUR-Ori','AIIPW-Ori'], datum.value) >= 0 ? 'M-2.75,0H2.75M0,-1.05L1,0.7L-1,0.7Z' : indexof(['LUR-RF','AILUR-RF'], datum.value) >= 0 ? 'M-2.75,0H2.75M0.85,0A0.85,0.85,0,1,1,-0.85,0A0.85,0.85,0,1,1,0.85,0Z' : datum.value == 'Uniform' ? 'M-2.75,0H2.75M-0.8,-0.8L0.8,0.8M-0.8,0.8L0.8,-0.8' : 'M-2.75,0H2.75M-0.75,-0.75H0.75V0.75H-0.75Z'"}}, "fill": {"value": {"expr": "scale('color', datum.value)"}}, "stroke": {"value": {"expr": "scale('color', datum.value)"}}, "strokeDash": {"value": {"expr": "scale('strokeDash', datum.value)"}}, "size": {"value": 64}, "strokeWidth": {"value": 2.5}}}}}
          }
        },
        {
          "data": {"name": "refs"},
          "transform": [{"filter": "datum.panel == 'c'"}],
          "mark": {"type": "rule", "color": "#000", "strokeWidth": 3, "strokeDash": [11, 6]},
          "encoding": {"y": {"field": "value", "type": "quantitative", "axis": null}}
        },
        {
          "data": {"name": "f1C"},
          "mark": {"type": "point", "filled": true, "opacity": 1, "size": 64, "strokeWidth": 0, "clip": true},
          "encoding": {
            "x": {"field": "step", "type": "quantitative"},
            "y": {"field": "value", "type": "quantitative", "axis": {"orient": "left", "values": [0.5, 0.55, 0.6, 0.65, 0.7, 0.75], "labels": false, "domain": false, "title": null}},
            "fill": {"field": "method", "type": "nominal", "scale": {"domain": ["Uniform", "AILUR-Rec", "AILUR-RF", "AILUR-Ori", "AIIPW-Rec", "AIIPW-Ori", "LUR-Rec", "LUR-RF", "LUR-Ori"], "range": ["#999999", "#00CED1", "#F5A11F", "#9B30FF", "#D40000", "#0000DD", "#CDCD00", "#EEAEEE", "#00CD00"]},
              "legend": {"values": ["AILUR-Ori", "AILUR-RF", "AILUR-Rec", "Uniform"], "legendX": 93, "legendY": 4.75, "encoding": {"symbols": {"shape": {"value": {"expr": "indexof(['LUR-Ori','AILUR-Ori','AIIPW-Ori'], datum.value) >= 0 ? 'M-2.75,0H2.75M0,-1.05L1,0.7L-1,0.7Z' : indexof(['LUR-RF','AILUR-RF'], datum.value) >= 0 ? 'M-2.75,0H2.75M0.85,0A0.85,0.85,0,1,1,-0.85,0A0.85,0.85,0,1,1,0.85,0Z' : datum.value == 'Uniform' ? 'M-2.75,0H2.75M-0.8,-0.8L0.8,0.8M-0.8,0.8L0.8,-0.8' : 'M-2.75,0H2.75M-0.75,-0.75H0.75V0.75H-0.75Z'"}}, "fill": {"value": {"expr": "scale('fill', datum.value)"}}, "stroke": {"value": {"expr": "scale('fill', datum.value)"}}, "strokeDash": {"value": {"expr": "scale('strokeDash', datum.value)"}}, "size": {"value": 64}, "strokeWidth": {"value": 2.5}}}}},
            "shape": {"field": "method", "type": "nominal", "scale": {"domain": ["LUR-Ori", "LUR-RF", "LUR-Rec", "AIIPW-Ori", "AIIPW-Rec", "AILUR-Ori", "AILUR-RF", "AILUR-Rec", "Uniform"], "range": ["M0,-1.1L1.05,0.75L-1.05,0.75Z", "M1.1,0A1.1,1.1,0,1,1,-1.1,0A1.1,1.1,0,1,1,1.1,0Z", "M-0.95,-0.95H0.95V0.95H-0.95Z", "M0,-1.1L1.05,0.75L-1.05,0.75Z", "M-0.95,-0.95H0.95V0.95H-0.95Z", "M0,-1.1L1.05,0.75L-1.05,0.75Z", "M1.1,0A1.1,1.1,0,1,1,-1.1,0A1.1,1.1,0,1,1,1.1,0Z", "M-0.95,-0.95H0.95V0.95H-0.95Z", "M-1,-0.7L-0.7,-1L0,-0.3L0.7,-1L1,-0.7L0.3,0L1,0.7L0.7,1L0,0.3L-0.7,1L-1,0.7L-0.3,0Z"]}, "legend": null}
          }
        }
      ]
    },
    {
      "width": 186, "height": 105,
      "data": {"name": "mseA"},
      "resolve": {"axis": {"y": "independent"}},
      "layer": [
        {
          "mark": {"type": "line", "strokeWidth": 2.2, "clip": true},
          "encoding": {
            "x": {"field": "step", "type": "quantitative", "scale": {"domain": [0.85, 5.138], "nice": false, "zero": false}, "axis": {"values": [1, 2, 3, 4, 5], "format": "d", "title": "Sampling step"}},
            "y": {"field": "value", "type": "quantitative", "scale": {"domain": [0.0323, 0.1226], "nice": false, "zero": false}, "axis": {"orient": "left", "values": [0.04, 0.08, 0.12], "format": ".2f", "title": "√M̅S̅E̅"}},
            "color": {"field": "method", "type": "nominal", "legend": null},
            "strokeDash": {"field": "method", "type": "nominal", "legend": null}
          }
        },
        {
          "mark": {"type": "point", "filled": true, "opacity": 1, "size": 64, "strokeWidth": 0, "clip": true},
          "encoding": {
            "x": {"field": "step", "type": "quantitative"},
            "y": {"field": "value", "type": "quantitative", "axis": {"orient": "left", "values": [0.04, 0.06, 0.08, 0.10, 0.12], "labels": false, "domain": false, "title": null}},
            "color": {"field": "method", "type": "nominal", "legend": null},
            "shape": {"field": "method", "type": "nominal", "legend": null}
          }
        }
      ]
    },
    {
      "width": 186, "height": 105,
      "data": {"name": "mseB"},
      "resolve": {"axis": {"y": "independent"}},
      "layer": [
        {
          "mark": {"type": "line", "strokeWidth": 2.2, "clip": true},
          "encoding": {
            "x": {"field": "step", "type": "quantitative", "scale": {"domain": [0.85, 5.138], "nice": false, "zero": false}, "axis": {"values": [1, 2, 3, 4, 5], "format": "d", "title": "Sampling step"}},
            "y": {"field": "value", "type": "quantitative", "scale": {"domain": [0.0158, 0.0765], "nice": false, "zero": false}, "axis": {"orient": "left", "values": [0.02, 0.05], "format": ".2f", "title": "√M̅S̅E̅"}},
            "color": {"field": "method", "type": "nominal", "legend": null},
            "strokeDash": {"field": "method", "type": "nominal", "legend": null}
          }
        },
        {
          "mark": {"type": "point", "filled": true, "opacity": 1, "size": 64, "strokeWidth": 0, "clip": true},
          "encoding": {
            "x": {"field": "step", "type": "quantitative"},
            "y": {"field": "value", "type": "quantitative", "axis": {"orient": "left", "values": [0.02, 0.03, 0.04, 0.05, 0.06, 0.07], "labels": false, "domain": false, "title": null}},
            "color": {"field": "method", "type": "nominal", "legend": null},
            "shape": {"field": "method", "type": "nominal", "legend": null}
          }
        }
      ]
    },
    {
      "width": 186, "height": 105,
      "data": {"name": "mseC"},
      "resolve": {"axis": {"y": "independent"}},
      "layer": [
        {
          "mark": {"type": "line", "strokeWidth": 2.2, "clip": true},
          "encoding": {
            "x": {"field": "step", "type": "quantitative", "scale": {"domain": [0.85, 5.138], "nice": false, "zero": false}, "axis": {"values": [1, 2, 3, 4, 5], "format": "d", "title": "Sampling step"}},
            "y": {"field": "value", "type": "quantitative", "scale": {"domain": [0.0178, 0.0867], "nice": false, "zero": false}, "axis": {"orient": "left", "values": [0.02, 0.05, 0.08], "format": ".2f", "title": "√M̅S̅E̅"}},
            "color": {"field": "method", "type": "nominal", "legend": null},
            "strokeDash": {"field": "method", "type": "nominal", "legend": null}
          }
        },
        {
          "mark": {"type": "point", "filled": true, "opacity": 1, "size": 64, "strokeWidth": 0, "clip": true},
          "encoding": {
            "x": {"field": "step", "type": "quantitative"},
            "y": {"field": "value", "type": "quantitative", "axis": {"orient": "left", "values": [0.02, 0.03, 0.04, 0.05, 0.06, 0.07, 0.08], "labels": false, "domain": false, "title": null}},
            "color": {"field": "method", "type": "nominal", "legend": null},
            "shape": {"field": "method", "type": "nominal", "legend": null}
          }
        }
      ]
    }
  ]
}
